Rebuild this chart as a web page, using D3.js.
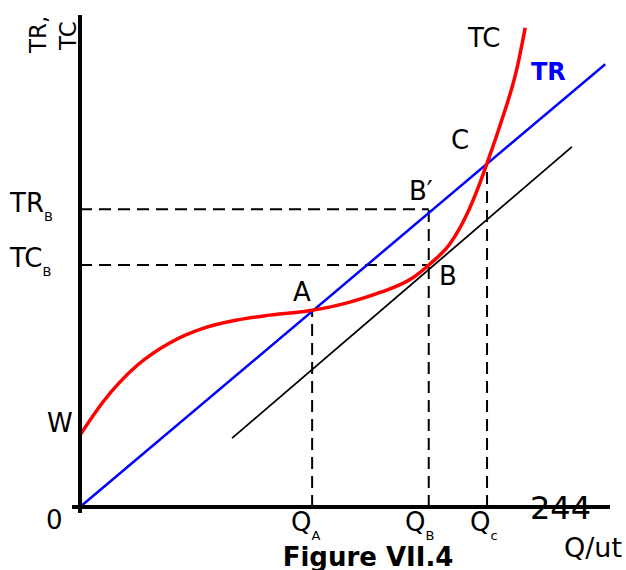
<!DOCTYPE html>
<html>
<head>
<meta charset="utf-8">
<script src="https://cdn.jsdelivr.net/npm/d3@7"></script>
<style>
  body { margin: 0; background: #fff; }
  svg { display: block; font-family: "DejaVu Sans", Verdana, sans-serif; }
</style>
</head>
<body>
<div id="chart-container"></div>
<script>
const width = 626, height = 570;
const margin = { top: 15, left: 80, right: 16, bottom: 63 };

// TC curve (quantity, cost)
const tcQ = [0, 4.3, 10.8, 17, 23.2, 29.6, 35.8, 43.8, 50.4, 56.6, 62.8, 65.8, 69.8, 73, 75.5, 76.8, 79.2, 82.5, 84];
const tcV = [14.6, 21.3, 28.8, 33.4, 36.3, 38, 39, 40, 41.5, 43.6, 46.6, 49.2, 53.5, 59.5, 66, 69.9, 77.4, 89.4, 97.4];
// TR line end points
const trQ = [0, 99.1];
const trV = [0, 90];
// tangent line parallel to TR through B
const tanQ = [28.7, 92.8];
const tanV = [14, 73.2];
// key quantities and levels
const qA = 43.8, qB = 65.8, qC = 76.8;
const vA = 40, trB = 60.5, tcB = 49.2, vC = 69.9;

const x = d3.scaleLinear().domain([0, 100]).range([margin.left, width - margin.right]);
const y = d3.scaleLinear().domain([0, 100]).range([height - margin.bottom, margin.top]);

const svg = d3.select("#chart-container").append("svg")
  .attr("width", width).attr("height", height);

const line = d3.line().x(d => x(d[0])).y(d => y(d[1]));
const curve = d3.line().x(d => x(d[0])).y(d => y(d[1])).curve(d3.curveMonotoneX);

// dashed guides
const dashes = [
  [[0, trB], [qB, trB]],
  [[0, tcB], [qB, tcB]],
  [[qA, 0], [qA, vA]],
  [[qB, 0], [qB, trB]],
  [[qC, 0], [qC, vC]]
];
svg.append("g").selectAll("path")
  .data(dashes)
  .enter().append("path")
  .attr("d", line)
  .attr("fill", "none")
  .attr("stroke", "black")
  .attr("stroke-width", 2)
  .attr("stroke-dasharray", "12,7");

// tangent line
svg.append("path")
  .attr("d", line(d3.zip(tanQ, tanV)))
  .attr("fill", "none").attr("stroke", "black").attr("stroke-width", 1.8);

// TR
svg.append("path")
  .attr("d", line(d3.zip(trQ, trV)))
  .attr("fill", "none").attr("stroke", "#0000ff").attr("stroke-width", 2.5);

// TC
svg.append("path")
  .attr("d", curve(d3.zip(tcQ, tcV)))
  .attr("fill", "none").attr("stroke", "#ff0000").attr("stroke-width", 3.5);

// axes
svg.append("line")
  .attr("x1", x(0)).attr("x2", x(0))
  .attr("y1", y(100)).attr("y2", y(0) + 6)
  .attr("stroke", "black").attr("stroke-width", 4);
svg.append("line")
  .attr("x1", x(0) - 8).attr("x2", x(100))
  .attr("y1", y(0)).attr("y2", y(0))
  .attr("stroke", "black").attr("stroke-width", 4);

const label = (txt, px, py, size, opts = {}) => {
  const t = svg.append("text")
    .attr("x", px).attr("y", py)
    .attr("font-size", size)
    .attr("fill", opts.fill || "black")
    .attr("font-weight", opts.bold ? "bold" : "normal")
    .attr("text-anchor", opts.anchor || "start");
  t.append("tspan").text(txt);
  if (opts.sub) {
    t.append("tspan").attr("font-size", 13).attr("dy", 9).text(opts.sub);
  }
  return t;
};

// point labels
label("TC", 468, 47, 26);
label("TR", 531, 80, 24, { bold: true, fill: "#0000ff" });
label("C", 451, 149, 26);
label("B\u2032", 409, 200, 26);
label("A", 293, 301, 26);
label("B", 439, 285, 26);
label("W", 47, 432, 26);
label("0", 46, 529, 26);

// y-side labels
label("TR", 10, 212, 26, { sub: "B" });
label("TC", 10, 267, 26, { sub: "B" });

// x-side labels
label("Q", 291, 531, 26, { sub: "A" });
label("Q", 405, 531, 26, { sub: "B" });
label("Q", 470, 531, 26, { sub: "c" });
label("Q/ut", 564, 557, 27);
label("244", 530, 519, 32);
label("Figure VII.4", 368, 566, 26, { bold: true, anchor: "middle" });

// rotated axis title
const yt = svg.append("text")
  .attr("transform", "translate(46,53) rotate(-90)")
  .attr("font-size", 23);
yt.append("tspan").attr("x", 0).attr("y", 0).text("TR,");
yt.append("tspan").attr("x", 3).attr("y", 30).text("TC");
</script>
</body>
</html>
